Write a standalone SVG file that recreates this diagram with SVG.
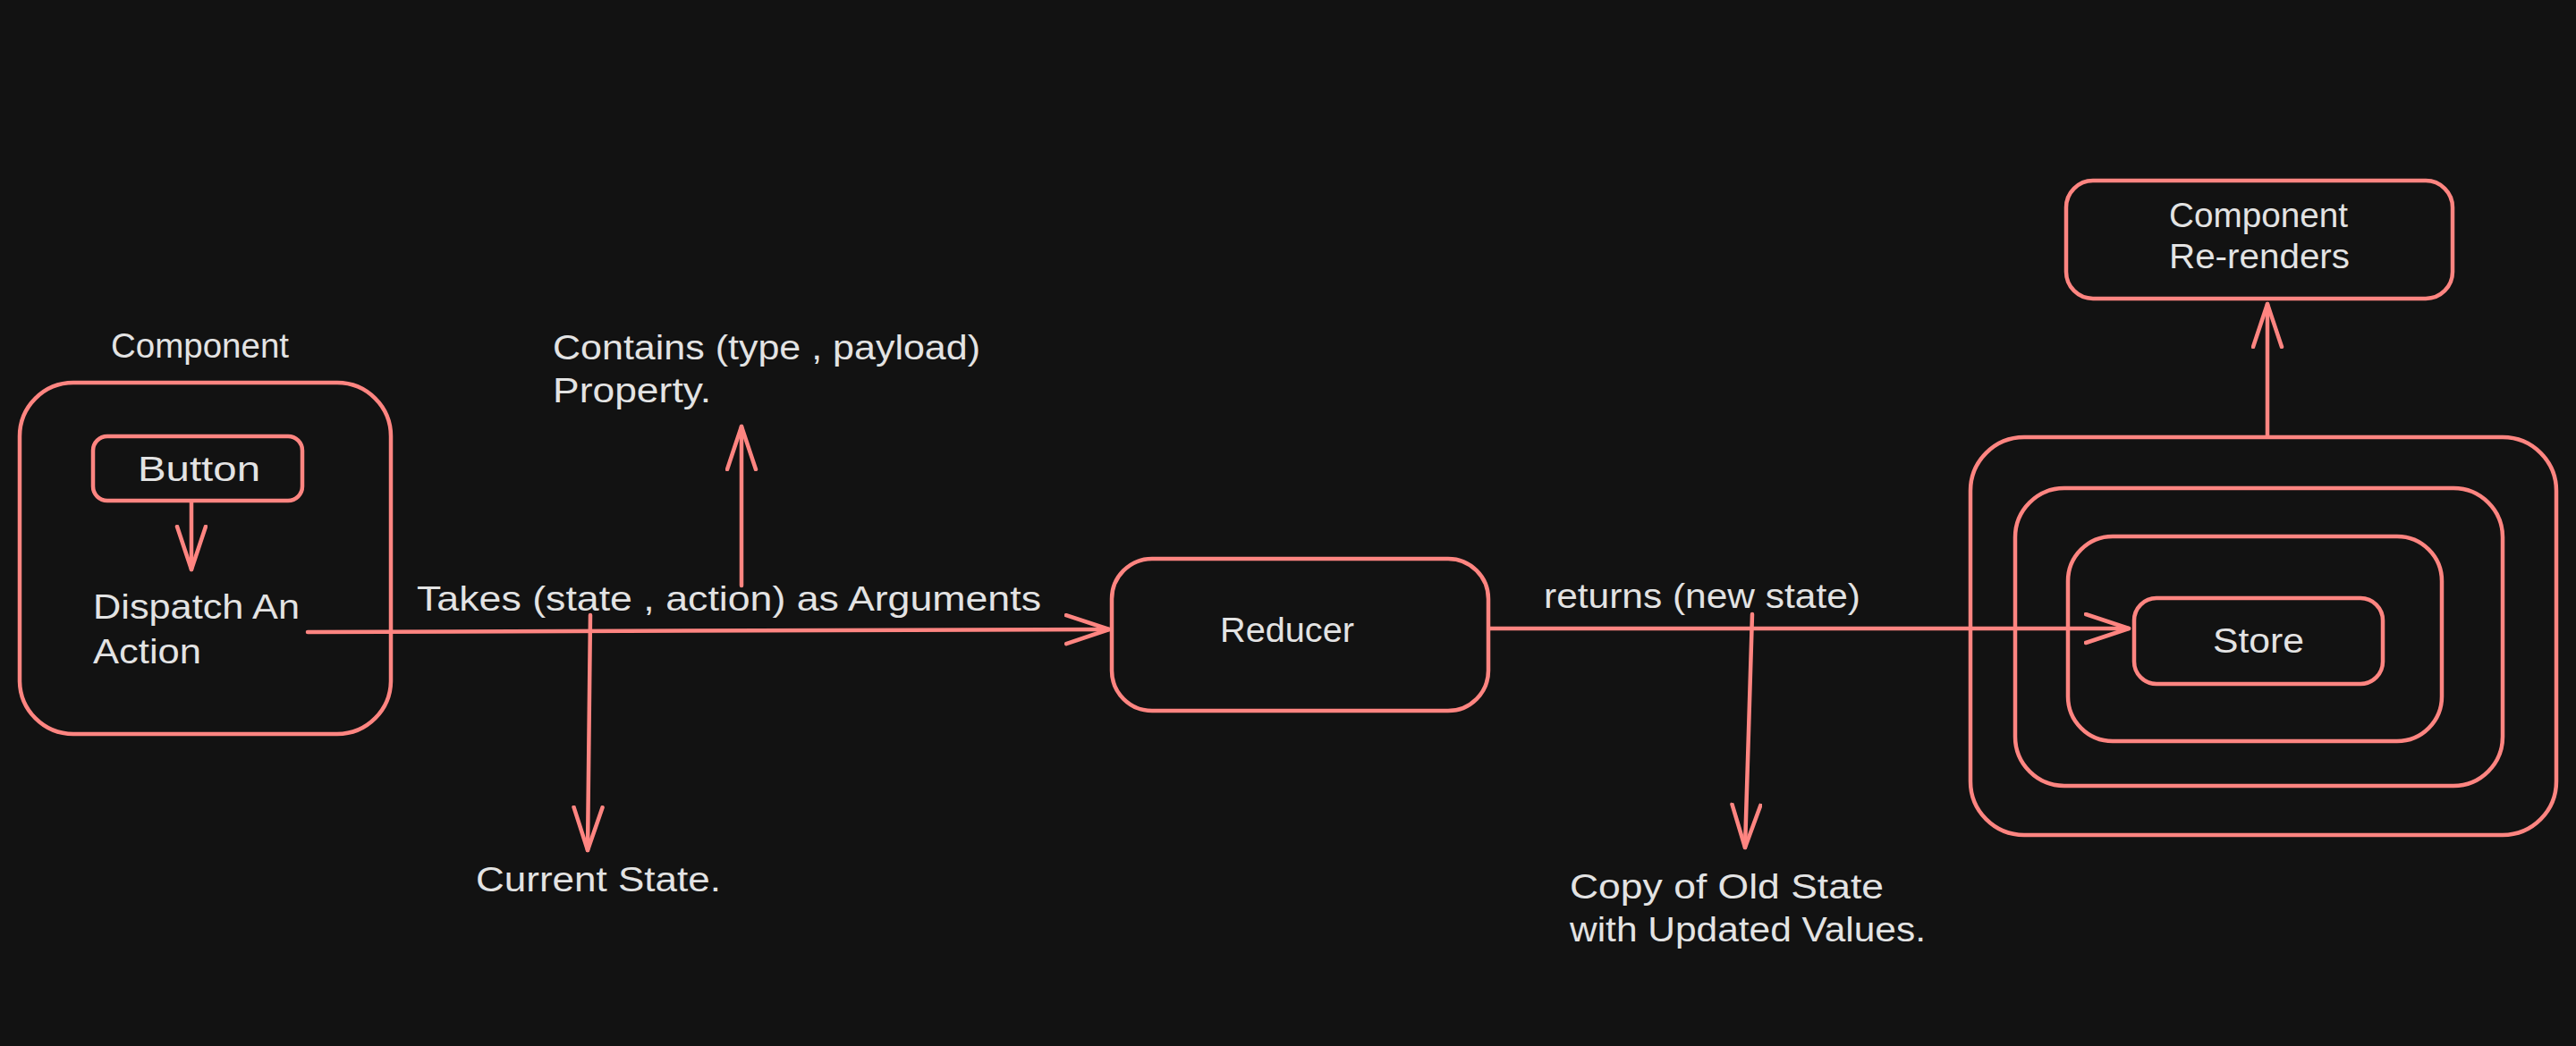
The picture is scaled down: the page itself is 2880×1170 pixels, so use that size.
<svg xmlns="http://www.w3.org/2000/svg" width="2880" height="1170" viewBox="0 0 2880 1170">
<defs>
<style>
.box{fill:none;stroke:#ff8581;stroke-width:4.5}
.ln{fill:none;stroke:#ff8581;stroke-width:4.5;stroke-linecap:round}
.t{fill:#e3e3e3;font-family:"Liberation Sans","DejaVu Sans",sans-serif;font-size:38px}
</style>
<marker id="ah" markerUnits="userSpaceOnUse" markerWidth="60" markerHeight="44" refX="50" refY="18" orient="auto" viewBox="0 0 60 44">
<path d="M2,2 L50,18 L2,34" fill="none" stroke="#ff8581" stroke-width="4.5" stroke-linecap="round" stroke-linejoin="round"/>
</marker>
</defs>
<rect width="2880" height="1170" fill="#121212"/>

<g id="component">
<rect class="box" x="22" y="428" width="415" height="393" rx="60"/>
<text class="t" x="124" y="400" textLength="199" lengthAdjust="spacingAndGlyphs">Component</text>
<text class="t" x="104" y="692" textLength="231" lengthAdjust="spacingAndGlyphs">Dispatch An</text>
<text class="t" x="104" y="742" textLength="121" lengthAdjust="spacingAndGlyphs">Action</text>
</g>
<g id="button">
<rect class="box" x="104" y="488" width="234" height="72" rx="16"/>
<text class="t" x="154" y="538" textLength="137" lengthAdjust="spacingAndGlyphs">Button</text>
</g>
<g id="reducer">
<rect class="box" x="1243" y="625" width="421" height="170" rx="45"/>
<text class="t" x="1364" y="718" textLength="150" lengthAdjust="spacingAndGlyphs">Reducer</text>
</g>
<g id="rerenders">
<rect class="box" x="2310" y="202" width="432" height="132" rx="30"/>
<text class="t" x="2425" y="254" textLength="200" lengthAdjust="spacingAndGlyphs">Component</text>
<text class="t" x="2425" y="300" textLength="202" lengthAdjust="spacingAndGlyphs">Re-renders</text>
</g>
<g id="store-layers">
<rect class="box" x="2203" y="489" width="655" height="445" rx="60"/>
<rect class="box" x="2253" y="546" width="545" height="333" rx="55"/>
<rect class="box" x="2312" y="600" width="418" height="229" rx="50"/>
</g>
<g id="store">
<rect class="box" x="2386" y="669" width="278" height="96" rx="25"/>
<text class="t" x="2474" y="730" textLength="102" lengthAdjust="spacingAndGlyphs">Store</text>
</g>
<g id="labels">
<text class="t" x="466" y="683" textLength="698" lengthAdjust="spacingAndGlyphs">Takes (state , action) as Arguments</text>
<text class="t" x="618" y="402" textLength="478" lengthAdjust="spacingAndGlyphs">Contains (type , payload)</text>
<text class="t" x="618" y="450" textLength="177" lengthAdjust="spacingAndGlyphs">Property.</text>
<text class="t" x="532" y="997" textLength="274" lengthAdjust="spacingAndGlyphs">Current State.</text>
<text class="t" x="1726" y="680" textLength="354" lengthAdjust="spacingAndGlyphs">returns (new state)</text>
<text class="t" x="1755" y="1005" textLength="351" lengthAdjust="spacingAndGlyphs">Copy of Old State</text>
<text class="t" x="1755" y="1053" textLength="398" lengthAdjust="spacingAndGlyphs">with Updated Values.</text>
</g>
<g id="connectors">
<path class="ln" d="M214,561 L214,637" marker-end="url(#ah)"/>
<path class="ln" d="M344,707 L1240,704" marker-end="url(#ah)"/>
<path class="ln" d="M829,655 L829,477" marker-end="url(#ah)"/>
<path class="ln" d="M660,688 L657,951" marker-end="url(#ah)"/>
<path class="ln" d="M1665,703 L2380,703" marker-end="url(#ah)"/>
<path class="ln" d="M1959,687 L1951,948" marker-end="url(#ah)"/>
<path class="ln" d="M2535,488 L2535,340" marker-end="url(#ah)"/>
</g>
</svg>
